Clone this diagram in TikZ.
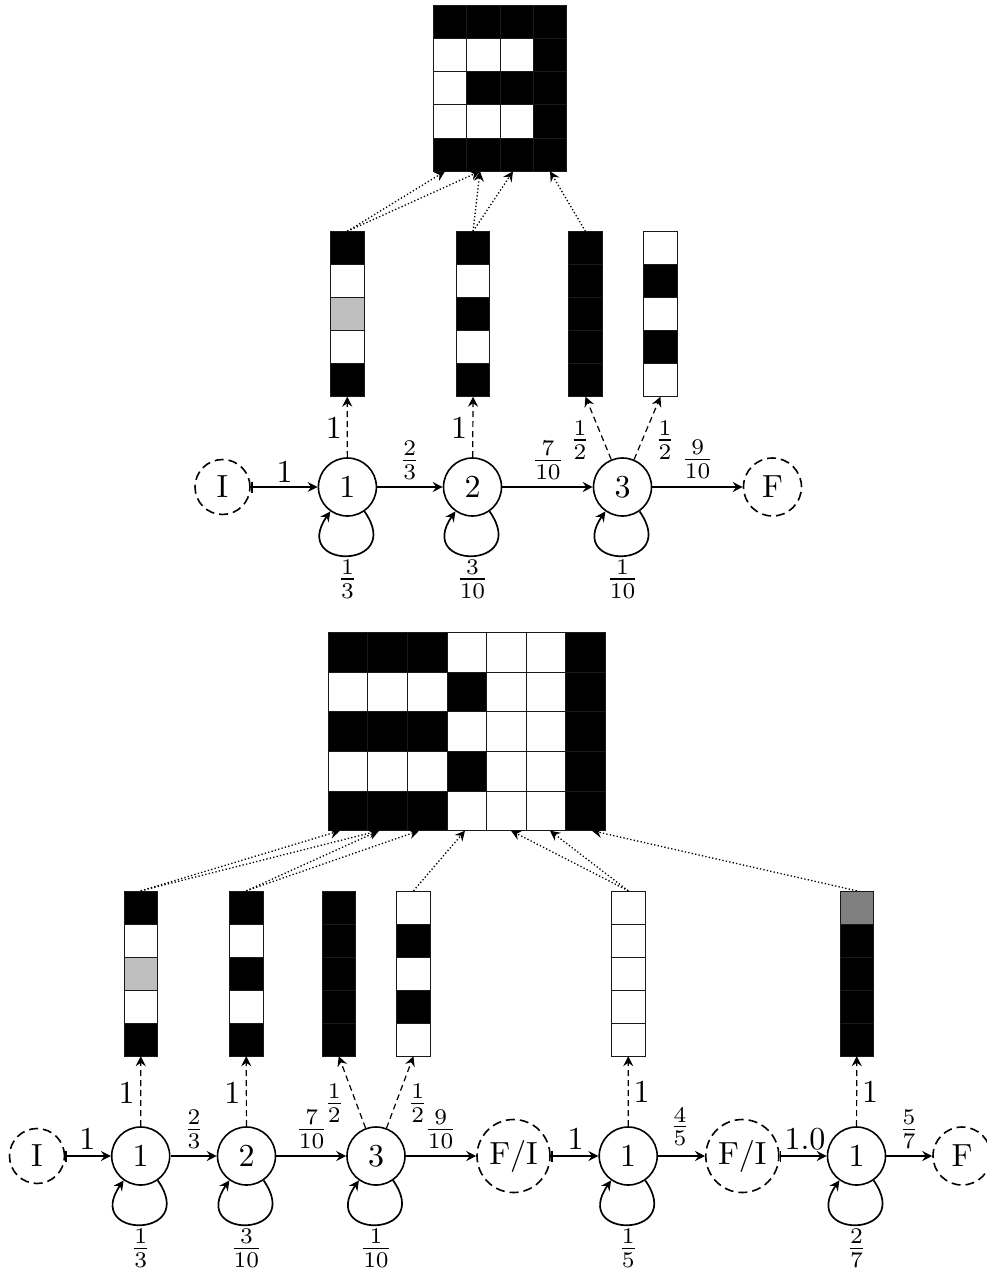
\documentclass[tikz,border=0pt]{standalone}
\usetikzlibrary{arrows.meta}
\colorlet{B}{black}
\colorlet{W}{white}
\colorlet{G}{black!25}
\colorlet{D}{black!50}
\newcommand\myfr[2]{\scalebox{3.2}{$\frac{#1}{#2}$}}
\newcommand\bigt[1]{\scalebox{3.2}{#1}}
\tikzset{
  lbl/.style={inner sep=0pt},
  st/.style={circle, draw, line width=1.6pt, minimum size=58pt, inner sep=0pt},
  term/.style={st, dash pattern=on 9pt off 5pt},
  >={Stealth[length=10pt,width=10pt,inset=3.5pt]},
  tr/.style={line width=1.7pt, ->},
  trb/.style={line width=1.7pt, {Bar[width=11pt]}->},
  emis/.style={line width=1.2pt, dash pattern=on 6pt off 4pt, ->},
  dotarr/.style={line width=1.3pt, dash pattern=on 1.3pt off 2.2pt, ->},
  cell/.style={draw=black!90, line width=0.9pt},
  colbox/.style={inner sep=0pt, minimum width=33.5pt, minimum height=165pt},
}
\newcommand\mkcolumn[4]{%
  \foreach \f [count=\k from 0] in {#4}
    \filldraw[cell, fill=\f] (#2, #3+\k*33.0) rectangle ++(33.5, 33.0);
  \node[colbox] (#1) at (#2+16.75, #3+82.5) {};
}
\newcommand\mkgrid[5]{%
  \foreach \row [count=\r from 0] in {#5} {
    \foreach \f [count=\k from 0] in \row {
      \filldraw[cell, fill=\f] (#1+\k*#3, #2+\r*#4) rectangle ++(#3, #4);
    }
  }
}
\begin{document}
\begin{tikzpicture}[x=1pt, y=-1pt]
\useasboundingbox (0,0) rectangle (987,1271);

%% ================= TOP =================
\mkgrid{433.5}{5.3}{33.25}{33.2}{{B,B,B,B},{W,W,W,B},{W,B,B,B},{W,W,W,B},{B,B,B,B}}
\node[inner sep=0pt, minimum width=133pt, minimum height=166pt] (gridT) at (500,88.3) {};
\coordinate (ta1) at (445,171.3);
\coordinate (ta2) at (480,171.3);
\coordinate (ta3) at (513,171.3);
\coordinate (ta4) at (550,171.3);

\mkcolumn{cA}{330.5}{231.5}{B,W,G,W,B}
\mkcolumn{cB}{456.3}{231.5}{B,W,B,W,B}
\mkcolumn{cC}{568.7}{231.5}{B,B,B,B,B}
\mkcolumn{cD}{643.7}{231.5}{W,B,W,B,W}

\node[term, minimum size=55pt] (tI) at (222.5,487) {\bigt{I}};
\node[st] (t1) at (347.4,487) {\bigt{1}};
\node[st] (t2) at (472.5,487) {\bigt{2}};
\node[st] (t3) at (622.5,487) {\bigt{3}};
\node[term] (tF) at (772.5,487) {\bigt{F}};

\draw[trb] (tI) -- (t1);
\draw[tr] (t1) -- (t2);
\draw[tr] (t2) -- (t3);
\draw[tr] (t3) -- (tF);
\foreach \n in {t1,t2,t3}
  \draw[tr] (\n) to[out=-55,in=-125,distance=72pt] (\n);

\draw[emis] (t1) -- (cA.south);
\draw[emis] (t2) -- (cB.south);
\draw[emis] (t3) -- (cC.south);
\draw[emis] (t3) -- (cD.south);

\draw[dotarr] (cA.north) -- (ta1);
\draw[dotarr] (cA.north) -- (ta2);
\draw[dotarr] (cB.north) -- (ta2);
\draw[dotarr] (cB.north) -- (ta3);
\draw[dotarr] (cC.north) -- (ta4);

\node[lbl] (lt1) at (284.6,471.7) {\bigt{1}};
\node[lbl] (lt2) at (409.7,460.5) {\myfr{2}{3}};
\node[lbl] (lt3) at (548,460.5) {\myfr{7}{10}};
\node[lbl] (lt4) at (697.7,459.5) {\myfr{9}{10}};
\node[lbl] (lt5) at (333.8,428.3) {\bigt{1}};
\node[lbl] (lt6) at (459,428.3) {\bigt{1}};
\node[lbl] (lt7) at (580,440) {\myfr{1}{2}};
\node[lbl] (lt8) at (665,440) {\myfr{1}{2}};
\node[lbl] (lt9) at (347.4,579) {\myfr{1}{3}};
\node[lbl] (lt10) at (472.5,579) {\myfr{3}{10}};
\node[lbl] (lt11) at (622.5,579) {\myfr{1}{10}};

%% ================= BOTTOM =================
\mkgrid{328.3}{632.3}{39.57}{39.68}{{B,B,B,W,W,W,B},{W,W,W,B,W,W,B},{B,B,B,W,W,W,B},{W,W,W,B,W,W,B},{B,B,B,W,W,W,B}}
\node[inner sep=0pt, minimum width=277pt, minimum height=198.4pt] (gridB) at (466.8,731.5) {};
\coordinate (tb1) at (340,830.7);
\coordinate (tb2) at (379,830.7);
\coordinate (tb3) at (419,830.7);
\coordinate (tb4) at (465,830.7);
\coordinate (tb5) at (511,830.7);
\coordinate (tb6) at (550,830.7);
\coordinate (tb7) at (592,830.7);

\mkcolumn{eA}{124}{891}{B,W,G,W,B}
\mkcolumn{eB}{229.5}{891}{B,W,B,W,B}
\mkcolumn{eC}{322}{891}{B,B,B,B,B}
\mkcolumn{eD}{396.7}{891}{W,B,W,B,W}
\mkcolumn{eE}{611.5}{891}{W,W,W,W,W}
\mkcolumn{eF}{840}{891}{D,B,B,B,B}

\node[term, minimum size=55pt] (uI) at (37,1156) {\bigt{I}};
\node[st] (u1) at (140.7,1156) {\bigt{1}};
\node[st] (u2) at (246.5,1156) {\bigt{2}};
\node[st] (u3) at (376,1156) {\bigt{3}};
\node[term, minimum size=73pt] (uFI) at (513.5,1156) {\bigt{F/I}};
\node[st] (u4) at (628.2,1156) {\bigt{1}};
\node[term, minimum size=73pt] (uFIb) at (742.3,1156) {\bigt{F/I}};
\node[st] (u5) at (856.5,1156) {\bigt{1}};
\node[term] (uF) at (962,1156) {\bigt{F}};

\draw[trb] (uI) -- (u1);
\draw[tr] (u1) -- (u2);
\draw[tr] (u2) -- (u3);
\draw[tr] (u3) -- (uFI);
\draw[trb] (uFI) -- (u4);
\draw[tr] (u4) -- (uFIb);
\draw[trb] (uFIb) -- (u5);
\draw[tr] (u5) -- (uF);
\foreach \n in {u1,u2,u3,u4,u5}
  \draw[tr] (\n) to[out=-55,in=-125,distance=72pt] (\n);

\draw[emis] (u1) -- (eA.south);
\draw[emis] (u2) -- (eB.south);
\draw[emis] (u3) -- (eC.south);
\draw[emis] (u3) -- (eD.south);
\draw[emis] (u4) -- (eE.south);
\draw[emis] (u5) -- (eF.south);

\draw[dotarr] (eA.north) -- (tb1);
\draw[dotarr] (eA.north) -- (tb2);
\draw[dotarr] (eB.north) -- (tb2);
\draw[dotarr] (eB.north) -- (tb3);
\draw[dotarr] (eD.north) -- (tb4);
\draw[dotarr] (eE.north) -- (tb5);
\draw[dotarr] (eE.north) -- (tb6);
\draw[dotarr] (eF.north) -- (tb7);

\node[lbl] (lb1) at (87.3,1139.3) {\bigt{1}};
\node[lbl] (lb2) at (194,1129.5) {\myfr{2}{3}};
\node[lbl] (lb3) at (311.7,1129.5) {\myfr{7}{10}};
\node[lbl] (lb4) at (440.7,1129.5) {\myfr{9}{10}};
\node[lbl] (lb5) at (126.7,1093.3) {\bigt{1}};
\node[lbl] (lb6) at (232.3,1093.3) {\bigt{1}};
\node[lbl] (lb7) at (334.3,1103.3) {\myfr{1}{2}};
\node[lbl] (lb8) at (417.7,1103.3) {\myfr{1}{2}};
\node[lbl] (lb9) at (140.7,1248.5) {\myfr{1}{3}};
\node[lbl] (lb10) at (246.5,1248.5) {\myfr{3}{10}};
\node[lbl] (lb11) at (376,1248.5) {\myfr{1}{10}};
\node[lbl] (lb12) at (575.7,1139.3) {\bigt{1}};
\node[lbl] (lb13) at (641.7,1091.7) {\bigt{1}};
\node[lbl] (lb14) at (680,1126.7) {\myfr{4}{5}};
\node[lbl] (lb15) at (805,1139.3) {\bigt{1.0}};
\node[lbl] (lb16) at (870,1091.7) {\bigt{1}};
\node[lbl] (lb17) at (909,1129.5) {\myfr{5}{7}};
\node[lbl] (lb18) at (628.2,1248.5) {\myfr{1}{5}};
\node[lbl] (lb19) at (856.5,1248.5) {\myfr{2}{7}};
\end{tikzpicture}
\end{document}
